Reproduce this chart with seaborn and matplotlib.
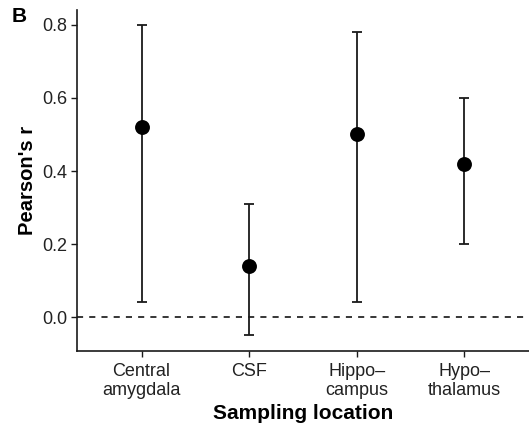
import matplotlib
matplotlib.use("Agg")
import matplotlib.pyplot as plt
import seaborn as sns
import pandas as pd

categories = ["Central\namygdala", "CSF", "Hippo\u2013\ncampus", "Hypo\u2013\nthalamus"]
r_values = [0.52, 0.14, 0.50, 0.42]
ci_low = [0.04, -0.05, 0.04, 0.20]
ci_high = [0.80, 0.31, 0.78, 0.60]
y_ticks = [0.0, 0.2, 0.4, 0.6, 0.8]

df = pd.DataFrame({"loc": categories, "r": r_values, "lo": ci_low, "hi": ci_high})

sns.set_theme(style="ticks")
plt.rcParams["font.family"] = ["Liberation Sans", "DejaVu Sans"]
plt.rcParams["text.color"] = "black"

fig = plt.figure(figsize=(5.29, 4.32), dpi=100)
ax = fig.add_axes([77/529, 1 - 351/432, (529-77)/529, (351-10)/432])

ax.axhline(0, color="black", lw=1.1, ls=(0, (4, 4)), zorder=1)
ax.errorbar(x=range(len(categories)), y=df["r"],
            yerr=[df["r"] - df["lo"], df["hi"] - df["r"]],
            fmt="none", ecolor="#1a1a1a", elinewidth=1.3, capsize=3.8, capthick=1.3, zorder=2)
sns.scatterplot(data=df, x="loc", y="r", ax=ax, s=115, color="black", linewidth=0, zorder=3)

ax.set_xlim(-0.6, 3.6)
ax.set_ylim(-0.093, 0.841)
ax.set_yticks(y_ticks)
ax.set_yticklabels([f"{v:.1f}" for v in y_ticks])
ax.set_xticks(range(len(categories)))
ax.set_xticklabels(categories, linespacing=1.1)
sns.despine(ax=ax)
for s in ["left", "bottom"]:
    ax.spines[s].set_linewidth(1.2)
    ax.spines[s].set_color("#1a1a1a")
ax.tick_params(axis="both", length=4, width=1.0, color="#1a1a1a", labelsize=13, labelcolor="#222222", pad=3)
ax.tick_params(axis="x", pad=5)
ax.set_xlabel("Sampling location", fontsize=15, fontweight="bold", labelpad=4, color="black")
ax.set_ylabel("Pearson's r", fontsize=14.5, fontweight="bold", labelpad=4, color="black")
fig.text(12/529, 1 - 17/432, "B", fontsize=15, fontweight="bold", va="center", ha="left")

fig.savefig("out.png", dpi=100)
